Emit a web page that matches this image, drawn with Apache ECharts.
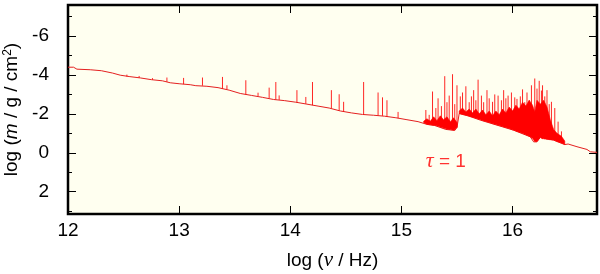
<!DOCTYPE html>
<html>
<head>
<meta charset="utf-8">
<script src="https://cdn.jsdelivr.net/npm/echarts@6/dist/echarts.min.js"></script>
<style>
html,body{margin:0;padding:0;background:#fff;}
#chart{width:600px;height:274px;}
</style>
</head>
<body>
<div id="chart"></div>
<script>
// ---- data ----
var xTicks = [12, 13, 14, 15, 16];
var yTicks = [-6, -4, -2, 0, 2];
var yMinorTicks = [-7, -5, -3, -1, 1, 3];

// baseline of the tau = 1 curve: [log nu, log m]
var baseline = [
  [12.00,-4.40],[12.05,-4.40],[12.08,-4.30],[12.20,-4.27],[12.30,-4.22],[12.40,-4.10],
  [12.47,-3.99],[12.55,-3.92],[12.65,-3.85],[12.75,-3.76],[12.85,-3.70],[12.92,-3.60],
  [13.00,-3.55],[13.10,-3.50],[13.15,-3.45],[13.25,-3.42],[13.35,-3.35],[13.45,-3.22],
  [13.55,-3.05],[13.65,-2.95],[13.75,-2.85],[13.85,-2.74],[13.95,-2.68],[14.05,-2.60],
  [14.15,-2.50],[14.25,-2.40],[14.35,-2.30],[14.45,-2.15],[14.55,-2.05],[14.65,-1.97],
  [14.75,-1.93],[14.85,-1.88],[14.95,-1.80],[15.05,-1.70],[15.15,-1.60],[15.23,-1.46],
  [15.30,-1.40],[15.40,-1.20],[15.48,-1.15],[15.50,-1.30],[15.52,-2.02],[15.60,-1.90],
  [15.71,-1.68],[15.86,-1.42],[16.01,-1.16],[16.16,-0.82],[16.19,-0.56],[16.22,-0.56],
  [16.25,-0.80],[16.37,-0.65],[16.47,-0.42],[16.50,-0.45],[16.58,-0.31],[16.67,-0.17],
  [16.70,-0.05],[16.76,-0.02]
];

// dense line forests: [log nu, lower edge, upper edge]
var forestA = [
  [15.20,-1.55,-1.62],[15.23,-1.46,-1.75],[15.26,-1.44,-1.62],[15.29,-1.42,-1.85],
  [15.32,-1.39,-1.65],[15.35,-1.33,-1.90],[15.38,-1.27,-1.70],[15.41,-1.22,-1.85],
  [15.44,-1.19,-1.60],[15.47,-1.16,-1.80],[15.50,-1.30,-1.55]
];
var forestB = [
  [15.52,-2.02,-2.15],[15.55,-1.97,-2.30],[15.58,-1.93,-2.10],[15.61,-1.88,-2.25],
  [15.64,-1.83,-2.05],[15.67,-1.78,-2.25],[15.70,-1.72,-2.00],[15.73,-1.66,-2.20],
  [15.76,-1.61,-1.95],[15.79,-1.56,-2.15],[15.82,-1.50,-1.90],[15.85,-1.45,-2.15],
  [15.88,-1.40,-1.95],[15.91,-1.35,-2.25],[15.94,-1.30,-2.05],[15.97,-1.25,-2.35],
  [16.00,-1.18,-2.15],[16.03,-1.12,-2.45],[16.06,-1.06,-2.25],[16.09,-1.00,-2.60],
  [16.12,-0.93,-2.40],[16.15,-0.85,-2.70],[16.18,-0.75,-2.45],[16.20,-0.58,-2.10],
  [16.22,-0.58,-2.70],[16.25,-0.80,-2.50],[16.28,-0.72,-2.70],[16.31,-0.69,-2.35],
  [16.34,-0.67,-1.70],[16.37,-0.65,-1.20],[16.40,-0.58,-1.00],[16.44,-0.50,-0.85],
  [16.47,-0.42,-0.60]
];

// individual lines: [log nu, base, peak]
var spikes = [
  [12.53,-3.92,-4.02],[12.64,-3.86,-3.95],[12.76,-3.76,-3.84],[12.89,-3.65,-3.87],
  [13.04,-3.53,-3.85],[13.21,-3.45,-3.87],[13.39,-3.30,-3.90],[13.43,-3.27,-3.47],
  [13.60,-3.00,-3.73],[13.71,-2.92,-3.09],[13.81,-2.80,-3.35],[13.87,-2.74,-3.64],
  [13.90,-2.72,-2.95],[14.06,-2.59,-3.22],[14.14,-2.52,-2.87],[14.20,-2.45,-3.64],
  [14.37,-2.28,-3.22],[14.44,-2.17,-3.01],[14.48,-2.12,-2.62],[14.66,-1.97,-3.64],
  [14.79,-1.92,-3.10],[14.83,-1.90,-2.85],[14.87,-1.87,-2.70],[14.97,-1.78,-2.10],
  [15.22,-1.50,-2.20],[15.25,-1.45,-1.95],[15.28,-1.42,-3.15],[15.31,-1.40,-2.30],
  [15.33,-1.38,-2.80],[15.36,-1.30,-2.40],[15.39,-1.25,-3.94],[15.41,-1.22,-2.60],
  [15.43,-1.20,-2.94],[15.46,-1.17,-4.04],[15.48,-1.15,-2.50],[15.50,-1.30,-3.47],
  [15.53,-2.00,-2.90],[15.55,-1.98,-3.10],[15.58,-1.93,-3.42],[15.61,-1.88,-2.60],
  [15.63,-1.85,-2.90],[15.65,-1.82,-3.22],[15.67,-1.78,-2.70],[15.69,-1.75,-3.76],
  [15.72,-1.68,-2.94],[15.74,-1.65,-2.60],[15.77,-1.60,-3.22],[15.79,-1.56,-2.80],
  [15.82,-1.50,-2.62],[15.84,-1.46,-3.00],[15.87,-1.42,-2.94],[15.90,-1.38,-2.70],
  [15.92,-1.33,-3.22],[15.94,-1.30,-2.80],[15.96,-1.27,-2.94],[15.99,-1.20,-3.10],
  [16.02,-1.15,-2.85],[16.04,-1.10,-2.77],[16.07,-1.05,-2.90],[16.09,-1.00,-3.26],
  [16.11,-0.95,-2.60],[16.13,-0.90,-3.10],[16.15,-0.85,-2.70],[16.17,-0.80,-3.47],
  [16.20,-0.60,-3.82],[16.22,-0.60,-3.30],[16.24,-0.75,-3.70],[16.26,-0.72,-3.20],
  [16.27,-0.70,-3.47],[16.29,-0.70,-2.90],[16.31,-0.68,-3.22],[16.33,-0.67,-2.50],
  [16.35,-0.66,-2.62],[16.38,-0.62,-2.30],[16.41,-0.55,-1.60],[16.44,-0.50,-1.10]
];

var annotation = [[15.40, 0.45]];

// ---- chart ----
var FONT = '"Liberation Sans", Arial, sans-serif';
var RED = '#ff0000';
var chart = echarts.init(document.getElementById('chart'), null, {renderer: 'canvas'});

function bandSeries(rows) {
  return {
    type: 'custom',
    xAxisIndex: 0, yAxisIndex: 0,
    data: rows,
    encode: {x: 0, y: [1, 2]},
    silent: true,
    z: 3,
    renderItem: function (params, api) {
      if (params.dataIndex !== 0) return null;
      var pts = [];
      for (var i = 0; i < rows.length; i++) pts.push(api.coord([rows[i][0], rows[i][2]]));
      for (var j = rows.length - 1; j >= 0; j--) pts.push(api.coord([rows[j][0], rows[j][1]]));
      return {type: 'polygon', shape: {points: pts}, style: {fill: RED, stroke: RED, lineWidth: 0.6}};
    }
  };
}

function tickAxis(pos, isX, values, len, label) {
  var ax = {
    type: 'value',
    position: pos,
    splitLine: {show: false},
    axisLine: {show: false, onZero: false},
    axisTick: {show: true, inside: true, length: len, customValues: values,
               lineStyle: {color: '#000', width: 1}},
    axisLabel: label ? Object.assign({customValues: values}, label) : {show: false}
  };
  if (isX) { ax.min = 12; ax.max = 16.76; }
  else { ax.min = -7.6; ax.max = 3.15; ax.inverse = true; }
  return ax;
}

var xBottom = tickAxis('bottom', true, xTicks, 8,
  {color: '#000', fontFamily: FONT, fontSize: 19, margin: 7});
xBottom.name = '{a|log (}{i|ν}{a| / Hz)}';
xBottom.nameLocation = 'middle';
xBottom.nameGap = 36;
xBottom.nameTextStyle = {rich: {
  a: {fontFamily: FONT, fontSize: 19, color: '#000'},
  i: {fontFamily: '"Liberation Serif", serif', fontStyle: 'italic', fontSize: 21, color: '#000'}
}};

var yLeft = tickAxis('left', false, yTicks, 8,
  {color: '#000', fontFamily: FONT, fontSize: 19, margin: 19});
yLeft.name = '{a|log (}{i|m}{a| / g / cm}{s|2}{a|)}';
yLeft.nameLocation = 'middle';
yLeft.nameGap = 35;
yLeft.nameRotate = 90;
yLeft.nameTextStyle = {rich: {
  a: {fontFamily: FONT, fontSize: 19, color: '#000'},
  i: {fontFamily: FONT, fontStyle: 'italic', fontSize: 19, color: '#000'},
  s: {fontFamily: FONT, fontSize: 12, color: '#000', verticalAlign: 'top', padding: [0, 0, 8, 0]}
}};

chart.setOption({
  animation: false,
  backgroundColor: '#ffffff',
  grid: {left: 68, right: 3, top: 5, bottom: 60, show: true, outerBoundsMode: 'none',
         containLabel: false,
         backgroundColor: '#fffff0', borderColor: '#000', borderWidth: 2.5},
  xAxis: [
    xBottom,
    tickAxis('top', true, xTicks, 8, null)
  ],
  yAxis: [
    yLeft,
    tickAxis('left', false, yMinorTicks, 4, null),
    tickAxis('right', false, yTicks, 8, null),
    tickAxis('right', false, yMinorTicks, 4, null)
  ],
  series: [
    {
      type: 'line', xAxisIndex: 0, yAxisIndex: 0,
      data: baseline, showSymbol: false, symbol: 'none', z: 2,
      lineStyle: {color: '#e42020', width: 1}
    },
    bandSeries(forestA),
    bandSeries(forestB),
    {
      type: 'custom', xAxisIndex: 0, yAxisIndex: 0,
      data: spikes, encode: {x: 0, y: [1, 2]}, z: 4, silent: true,
      renderItem: function (params, api) {
        var p0 = api.coord([api.value(0), api.value(1)]);
        var p1 = api.coord([api.value(0), api.value(2)]);
        return {type: 'line', shape: {x1: p0[0], y1: p0[1], x2: p1[0], y2: p1[1]},
                style: {stroke: RED, lineWidth: 1, opacity: 0.85}};
      }
    },
    {
      type: 'scatter', xAxisIndex: 0, yAxisIndex: 0,
      data: annotation, symbolSize: 0, silent: true, z: 5,
      label: {
        show: true, position: 'inside',
        formatter: '{t|τ}{a| = 1}',
        rich: {
          t: {fontFamily: '"Liberation Serif", serif', fontStyle: 'italic', fontSize: 22, color: RED},
          a: {fontFamily: FONT, fontSize: 19, color: RED}
        }
      }
    }
  ]
});
</script>
</body>
</html>
